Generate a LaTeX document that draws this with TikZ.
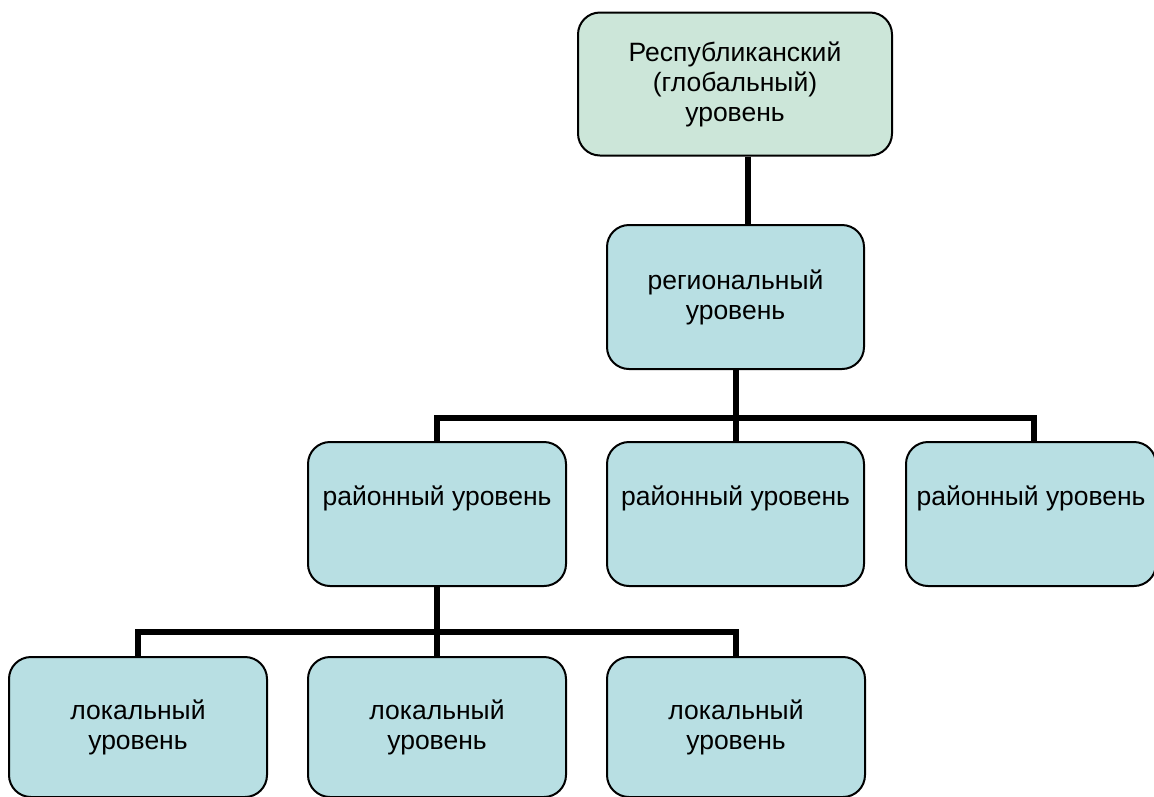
\documentclass[tikz,border=0pt]{standalone}
\usepackage{fontspec}
\setmainfont{Liberation Sans}
\usetikzlibrary{positioning}
\pgfdeclarelayer{background}
\pgfsetlayers{background,main}
\definecolor{topfill}{HTML}{CCE6D9}
\definecolor{boxfill}{HTML}{B8DFE3}
\begin{document}
\begin{tikzpicture}[x=1pt,y=-1pt,
  lvlbox/.style={draw=black, line width=2pt, rounded corners=22pt, fill=boxfill,
    align=center, inner sep=0pt, minimum width=258pt, minimum height=144pt,
    font=\fontsize{26.5}{30}\selectfont},
  conn/.style={line width=6pt, black}]
  \useasboundingbox (0,0) rectangle (1154,796);

  % hierarchy levels
  \node[lvlbox, fill=topfill, minimum width=314pt, minimum height=143pt] (rep) at (735,84)
    {Республиканский\\(глобальный)\\уровень};
  \node[lvlbox, minimum width=257pt] (reg) at (735.5,297) {региональный\\уровень};

  \node[lvlbox, text height=19pt, text depth=37pt] (d1) at (437,514) {районный уровень};
  \node[lvlbox, minimum width=257pt, text height=19pt, text depth=37pt] (d2) at (735.5,514) {районный уровень};
  \node[lvlbox, minimum width=250pt, text height=19pt, text depth=37pt] (d3) at (1031,514) {районный уровень};

  \node[lvlbox, minimum height=140pt] (l1) at (138,727) {локальный\\уровень};
  \node[lvlbox, minimum height=140pt] (l2) at (437,727) {локальный\\уровень};
  \node[lvlbox, minimum height=140pt] (l3) at (736,727) {локальный\\уровень};

  % connectors, drawn underneath the boxes
  \begin{pgfonlayer}{background}
    \draw[conn] ([xshift=12.5pt]rep.south) -- ([xshift=12.5pt]rep.south |- reg.north);
    \draw[conn] (reg.south) -- (d2.north);
    \draw[conn] (d1.north) -- ++(0,-23) -| ([xshift=3pt]d3.north);
    \draw[conn] (d1.south) -- (l2.north);
    \draw[conn] (l1.north) -- ++(0,-24) -| (l3.north);
  \end{pgfonlayer}
\end{tikzpicture}
\end{document}
